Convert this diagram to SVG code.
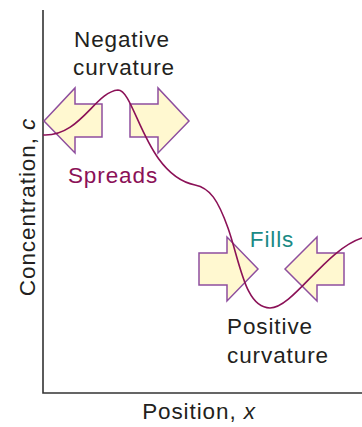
<svg xmlns="http://www.w3.org/2000/svg" width="362" height="427" viewBox="0 0 362 427">
<style>
.lbl{font-family:"Liberation Sans",Arial,sans-serif;font-size:22.5px;fill:#231f20;letter-spacing:0.9px}
.arrow{fill:#fff8d0;stroke:#8e4e9e;stroke-width:1.5;stroke-linejoin:miter}
.axis{fill:none;stroke:#333;stroke-width:1.6}
.curve{fill:none;stroke:#8b1157;stroke-width:1.6}
</style>
<rect width="362" height="427" fill="#fff"/>
<g id="axes">
<path class="axis" d="M43,10 V393 H362"/>
<text class="lbl" x="199" y="419" text-anchor="middle">Position, <tspan font-style="italic">x</tspan></text>
<text class="lbl" transform="translate(35,207) rotate(-90)" text-anchor="middle">Concentration, <tspan font-style="italic">c</tspan></text>
</g>
<g id="arrow-spread-left"><polygon class="arrow" points="44,121 75,88 75,104 102,104 102,137 75,137 75,153"/></g>
<g id="arrow-spread-right"><polygon class="arrow" points="130,104 158,104 158,88 189,121 158,153 158,137 130,137"/></g>
<g id="arrow-fill-left"><polygon class="arrow" points="199,253 227,253 227,237 258,269 227,301 227,285 199,285"/></g>
<g id="arrow-fill-right"><polygon class="arrow" points="285,269 317,237 317,253 344,253 344,285 317,285 317,301"/></g>
<g id="connectors">
<path class="curve" d="M43,135 C80,137 95,92 118,90 C135,90 145,175 195,185 C210,188 218,200 228,228 C240,262 245,308 270,308 C293,308 325,250 362,238"/>
</g>
<g id="labels">
<text class="lbl" x="122" y="47" text-anchor="middle">Negative</text>
<text class="lbl" x="124" y="75" text-anchor="middle">curvature</text>
<text class="lbl" x="113" y="183" text-anchor="middle" style="fill:#8b1157">Spreads</text>
<text class="lbl" x="272" y="247" text-anchor="middle" style="fill:#1a8a85">Fills</text>
<text class="lbl" x="270" y="334" text-anchor="middle">Positive</text>
<text class="lbl" x="278" y="363" text-anchor="middle">curvature</text>
</g>
</svg>
